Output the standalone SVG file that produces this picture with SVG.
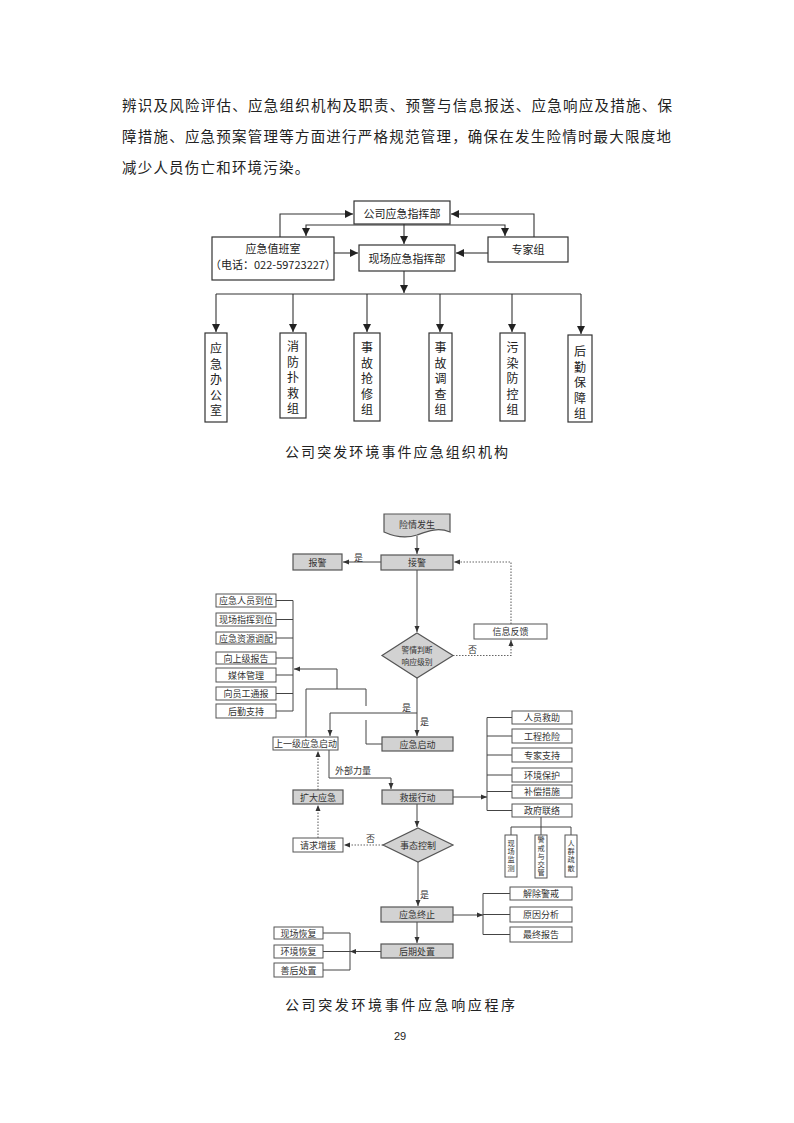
<svg xmlns="http://www.w3.org/2000/svg" width="794" height="1123" viewBox="0 0 794 1123">
<defs>
<style>
text{font-family:"Noto Sans CJK SC","Noto Sans",sans-serif;fill:#222}
.p{font-size:14.5px}
.cap{font-size:14px}
.t1{font-size:11px;text-anchor:middle;dominant-baseline:central}
.tv{font-size:12px;text-anchor:middle;dominant-baseline:central}
.t{font-size:9px;text-anchor:middle;dominant-baseline:central;fill:#333}
.td{font-size:7.8px;text-anchor:middle;dominant-baseline:central;fill:#333}
.tvs{font-size:7.2px;text-anchor:middle;writing-mode:vertical-rl;fill:#333}
.lb{font-size:9px;fill:#333}
.b1{fill:#fff;stroke:#333;stroke-width:1.2}
.g{fill:#d2d2d2;stroke:#555;stroke-width:1.2}
.w{fill:#fff;stroke:#555;stroke-width:1}
.ln{fill:none;stroke:#333;stroke-width:1.1}
.l2{fill:none;stroke:#444;stroke-width:1}
.dt{fill:none;stroke:#666;stroke-width:1.1;stroke-dasharray:1.5,1.5}
</style>
<marker id="A" markerWidth="8" markerHeight="8" refX="8" refY="4" orient="auto" markerUnits="userSpaceOnUse"><path d="M0,0 L8,4 L0,8 z" fill="#222"/></marker>
<marker id="a" markerWidth="6" markerHeight="6" refX="6" refY="3" orient="auto" markerUnits="userSpaceOnUse"><path d="M0,0.5 L6,3 L0,5.5 z" fill="#333"/></marker>
</defs>
<rect width="794" height="1123" fill="#fff"/>

<g id="paragraph">
<text class="p" x="122" y="111" textLength="550" lengthAdjust="spacing">辨识及风险评估、应急组织机构及职责、预警与信息报送、应急响应及措施、保</text>
<text class="p" x="122" y="142" textLength="549" lengthAdjust="spacing">障措施、应急预案管理等方面进行严格规范管理，确保在发生险情时最大限度地</text>
<text class="p" x="122" y="173" letter-spacing="1.2">减少人员伤亡和环境污染。</text>
</g>

<!-- Diagram 1 -->
<g id="d1-connectors">
<path class="ln" d="M280,237 V214 H353" marker-end="url(#A)"/>
<path class="ln" d="M534,237 V214 H451" marker-end="url(#A)"/>
<path class="ln" d="M404,225 H306 V236" marker-end="url(#A)"/>
<path class="ln" d="M404,225 H505 V236" marker-end="url(#A)"/>
<path class="ln" d="M404,224 V244" marker-end="url(#A)"/>
<path class="ln" d="M334,253 H358" marker-end="url(#A)"/>
<path class="ln" d="M488,253 H456" marker-end="url(#A)"/>
<path class="ln" d="M404,271 V293" marker-end="url(#A)"/>
<path class="ln" d="M216,294 H581"/>
<path class="ln" d="M216,294 V332" marker-end="url(#A)"/>
<path class="ln" d="M293,294 V332" marker-end="url(#A)"/>
<path class="ln" d="M367,294 V332" marker-end="url(#A)"/>
<path class="ln" d="M440,294 V332" marker-end="url(#A)"/>
<path class="ln" d="M512,294 V332" marker-end="url(#A)"/>
<path class="ln" d="M581,294 V334" marker-end="url(#A)"/>
</g>
<g id="n-gongsi"><rect class="b1" x="354" y="201" width="96" height="23"/><text class="t1" x="402" y="212.5">公司应急指挥部</text></g>
<g id="n-zhiban"><rect class="b1" x="212" y="237" width="122" height="43"/><text class="t1" x="273" y="248">应急值班室</text><text class="t1" x="273" y="264">（电话：022-59723227）</text></g>
<g id="n-xianchang"><rect class="b1" x="359" y="245" width="96" height="26"/><text class="t1" x="407" y="257.5">现场应急指挥部</text></g>
<g id="n-zhuanjia"><rect class="b1" x="488" y="237" width="80" height="25"/><text class="t1" x="528" y="249">专家组</text></g>
<g id="n-bangong"><rect class="b1" x="205" y="333" width="22" height="89"/>
<text class="tv"><tspan x="216" y="347">应</tspan><tspan x="216" y="362.5">急</tspan><tspan x="216" y="378">办</tspan><tspan x="216" y="393.5">公</tspan><tspan x="216" y="409">室</tspan></text></g>
<g id="n-xiaofang"><rect class="b1" x="280" y="333" width="26" height="85"/>
<text class="tv"><tspan x="293" y="345">消</tspan><tspan x="293" y="360.5">防</tspan><tspan x="293" y="376">扑</tspan><tspan x="293" y="391.5">救</tspan><tspan x="293" y="407">组</tspan></text></g>
<g id="n-qiangxiu"><rect class="b1" x="354" y="333" width="26" height="88"/>
<text class="tv"><tspan x="367" y="346">事</tspan><tspan x="367" y="361.5">故</tspan><tspan x="367" y="377">抢</tspan><tspan x="367" y="392.5">修</tspan><tspan x="367" y="408">组</tspan></text></g>
<g id="n-diaocha"><rect class="b1" x="429" y="333" width="23" height="88"/>
<text class="tv"><tspan x="440.5" y="346">事</tspan><tspan x="440.5" y="361.5">故</tspan><tspan x="440.5" y="377">调</tspan><tspan x="440.5" y="392.5">查</tspan><tspan x="440.5" y="408">组</tspan></text></g>
<g id="n-wuran"><rect class="b1" x="500" y="333" width="25" height="88"/>
<text class="tv"><tspan x="512.5" y="346">污</tspan><tspan x="512.5" y="361.5">染</tspan><tspan x="512.5" y="377">防</tspan><tspan x="512.5" y="392.5">控</tspan><tspan x="512.5" y="408">组</tspan></text></g>
<g id="n-houqin"><rect class="b1" x="568" y="335" width="24" height="87"/>
<text class="tv"><tspan x="580" y="350">后</tspan><tspan x="580" y="365.5">勤</tspan><tspan x="580" y="381">保</tspan><tspan x="580" y="396.5">障</tspan><tspan x="580" y="412">组</tspan></text></g>
<text class="cap" x="285" y="457" textLength="223" lengthAdjust="spacing">公司突发环境事件应急组织机构</text>

<!-- Diagram 2 -->
<g id="d2-connectors">
<path class="l2" d="M417,536 V554" marker-end="url(#a)"/>
<path class="l2" d="M381,562 H343" marker-end="url(#a)"/>
<path class="l2" d="M417,570 V632" marker-end="url(#a)"/>
<path class="dt" d="M453,655.5 H511 V640" marker-end="url(#a)"/>
<path class="dt" d="M511,624 V562 H454" marker-end="url(#a)"/>
<path class="l2" d="M417,678 V736" marker-end="url(#a)"/>
<path class="l2" d="M417,713 H330 V736" marker-end="url(#a)"/>
<path class="l2" d="M306,737 V689 H366 V706"/>
<path class="l2" d="M366,720 V744 H382"/>
<path class="l2" d="M337,689 V669 H294" marker-end="url(#a)"/>
<path class="l2" d="M293,600.5 V711"/>
<path class="l2" d="M276,600.5 H293 M276,619.5 H293 M276,638 H293 M276,658 H293 M276,675 H293 M276,693.5 H293 M276,711 H293"/>
<path class="l2" d="M329,750 V778 H391 V789" marker-end="url(#a)"/>
<path class="dt" d="M318,790 V751" marker-end="url(#a)"/>
<path class="dt" d="M318,838 V805" marker-end="url(#a)"/>
<path class="l2" d="M417,804 V827" marker-end="url(#a)"/>
<path class="dt" d="M383,845 H344" marker-end="url(#a)"/>
<path class="l2" d="M418,862 V906" marker-end="url(#a)"/>
<path class="l2" d="M417,922 V943" marker-end="url(#a)"/>
<path class="l2" d="M453,797 H487" marker-end="url(#a)"/>
<path class="l2" d="M487,717.5 V810.5"/>
<path class="l2" d="M487,717.5 H512 M487,736 H512 M487,755 H512 M487,775 H512 M487,791.5 H512 M487,810.5 H512"/>
<path class="l2" d="M541,817 V827 M511,827 H571 M511,827 V835 M541,827 V835 M571,827 V835"/>
<path class="l2" d="M453,915 H483" marker-end="url(#a)"/>
<path class="l2" d="M483,893.5 V934.5 M483,893.5 H510 M483,914.5 H510 M483,934.5 H510"/>
<path class="l2" d="M381,951.5 H350" marker-end="url(#a)"/>
<path class="l2" d="M350,933 V970 M323,933 H350 M323,951.5 H350 M323,970 H350"/>
</g>
<g id="labels">
<text class="lb" x="354" y="561">是</text>
<text class="lb" x="468" y="653">否</text>
<text class="lb" x="402" y="711">是</text>
<text class="lb" x="420" y="725">是</text>
<text class="lb" x="335" y="774">外部力量</text>
<text class="lb" x="366" y="842">否</text>
<text class="lb" x="420" y="898">是</text>
</g>
<g id="n-xianqing"><path class="g" d="M384,514 H450 V532 C438,527 428,531 417,535 C405,539 395,537 384,532 Z"/><text class="t" x="417" y="524">险情发生</text></g>
<g id="n-jiejing"><rect class="g" x="381" y="555" width="72" height="15"/><text class="t" x="417" y="562.5">接警</text></g>
<g id="n-baojing"><rect class="g" x="293" y="554" width="49" height="16"/><text class="t" x="317.5" y="562">报警</text></g>
<g id="n-panduan"><polygon class="g" points="417,633 453,655.5 417,678 382,655.5"/><text class="td" x="417" y="649.5">警情判断</text><text class="td" x="417" y="661.5">响应级别</text></g>
<g id="n-fankui"><rect class="w" x="474" y="624" width="73" height="15"/><text class="t" x="510.5" y="631.5">信息反馈</text></g>
<g id="n-l1"><rect class="w" x="216" y="594" width="60" height="13"/><text class="t" x="246" y="600.5">应急人员到位</text></g>
<g id="n-l2"><rect class="w" x="216" y="613" width="60" height="13"/><text class="t" x="246" y="619.5">现场指挥到位</text></g>
<g id="n-l3"><rect class="w" x="216" y="632" width="60" height="12"/><text class="t" x="246" y="638">应急资源调配</text></g>
<g id="n-l4"><rect class="w" x="216" y="652" width="60" height="12"/><text class="t" x="246" y="658">向上级报告</text></g>
<g id="n-l5"><rect class="w" x="216" y="668" width="60" height="14"/><text class="t" x="246" y="675">媒体管理</text></g>
<g id="n-l6"><rect class="w" x="216" y="687" width="60" height="13"/><text class="t" x="246" y="693.5">向员工通报</text></g>
<g id="n-l7"><rect class="w" x="216" y="704" width="60" height="14"/><text class="t" x="246" y="711">后勤支持</text></g>
<g id="n-shangyiji"><rect class="w" x="273" y="737" width="65" height="13"/><text class="t" x="305.5" y="743.5">上一级应急启动</text></g>
<g id="n-qidong"><rect class="g" x="382" y="737" width="71" height="14"/><text class="t" x="417.5" y="744">应急启动</text></g>
<g id="n-kuoda"><rect class="g" x="293" y="790" width="50" height="14"/><text class="t" x="318" y="797">扩大应急</text></g>
<g id="n-jiuyuan"><rect class="g" x="382" y="790" width="71" height="14"/><text class="t" x="417.5" y="797">救援行动</text></g>
<g id="n-zengyuan"><rect class="w" x="293" y="838" width="50" height="14"/><text class="t" x="318" y="845">请求增援</text></g>
<g id="n-taishi"><polygon class="g" points="418,828 453,845 418,862 383,845"/><text class="t" x="418" y="845">事态控制</text></g>
<g id="n-r1"><rect class="w" x="512" y="711" width="60" height="13"/><text class="t" x="542" y="717.5">人员救助</text></g>
<g id="n-r2"><rect class="w" x="512" y="729" width="60" height="14"/><text class="t" x="542" y="736">工程抢险</text></g>
<g id="n-r3"><rect class="w" x="512" y="748" width="60" height="14"/><text class="t" x="542" y="755">专家支持</text></g>
<g id="n-r4"><rect class="w" x="512" y="768" width="60" height="14"/><text class="t" x="542" y="775">环境保护</text></g>
<g id="n-r5"><rect class="w" x="512" y="785" width="60" height="13"/><text class="t" x="542" y="791.5">补偿措施</text></g>
<g id="n-r6"><rect class="w" x="512" y="804" width="60" height="13"/><text class="t" x="542" y="810.5">政府联络</text></g>
<g id="n-v1"><rect class="w" x="505" y="835" width="12" height="42"/><text class="tvs" x="511" y="856" letter-spacing="1.2">现场监测</text></g>
<g id="n-v2"><rect class="w" x="535" y="835" width="12" height="43"/><text class="tvs" x="541" y="856.5" letter-spacing="1">警戒与交管</text></g>
<g id="n-v3"><rect class="w" x="565" y="835" width="12" height="42"/><text class="tvs" x="571" y="856" letter-spacing="1.2">人群疏散</text></g>
<g id="n-zhongzhi"><rect class="g" x="381" y="907" width="72" height="15"/><text class="t" x="417" y="914.5">应急终止</text></g>
<g id="n-houqi"><rect class="g" x="381" y="944" width="72" height="14"/><text class="t" x="417" y="951">后期处置</text></g>
<g id="n-e1"><rect class="w" x="510" y="887" width="62" height="13"/><text class="t" x="541" y="893.5">解除警戒</text></g>
<g id="n-e2"><rect class="w" x="510" y="907" width="62" height="15"/><text class="t" x="541" y="914.5">原因分析</text></g>
<g id="n-e3"><rect class="w" x="510" y="927" width="62" height="15"/><text class="t" x="541" y="934.5">最终报告</text></g>
<g id="n-f1"><rect class="w" x="274" y="927" width="49" height="12"/><text class="t" x="298.5" y="933">现场恢复</text></g>
<g id="n-f2"><rect class="w" x="274" y="945" width="49" height="13"/><text class="t" x="298.5" y="951.5">环境恢复</text></g>
<g id="n-f3"><rect class="w" x="274" y="963" width="49" height="14"/><text class="t" x="298.5" y="970">善后处置</text></g>
<text class="cap" x="285" y="1010" textLength="230" lengthAdjust="spacing">公司突发环境事件应急响应程序</text>
<text x="400" y="1040" text-anchor="middle" style="font-family:'Liberation Sans',sans-serif;font-size:11px">29</text>
</svg>
